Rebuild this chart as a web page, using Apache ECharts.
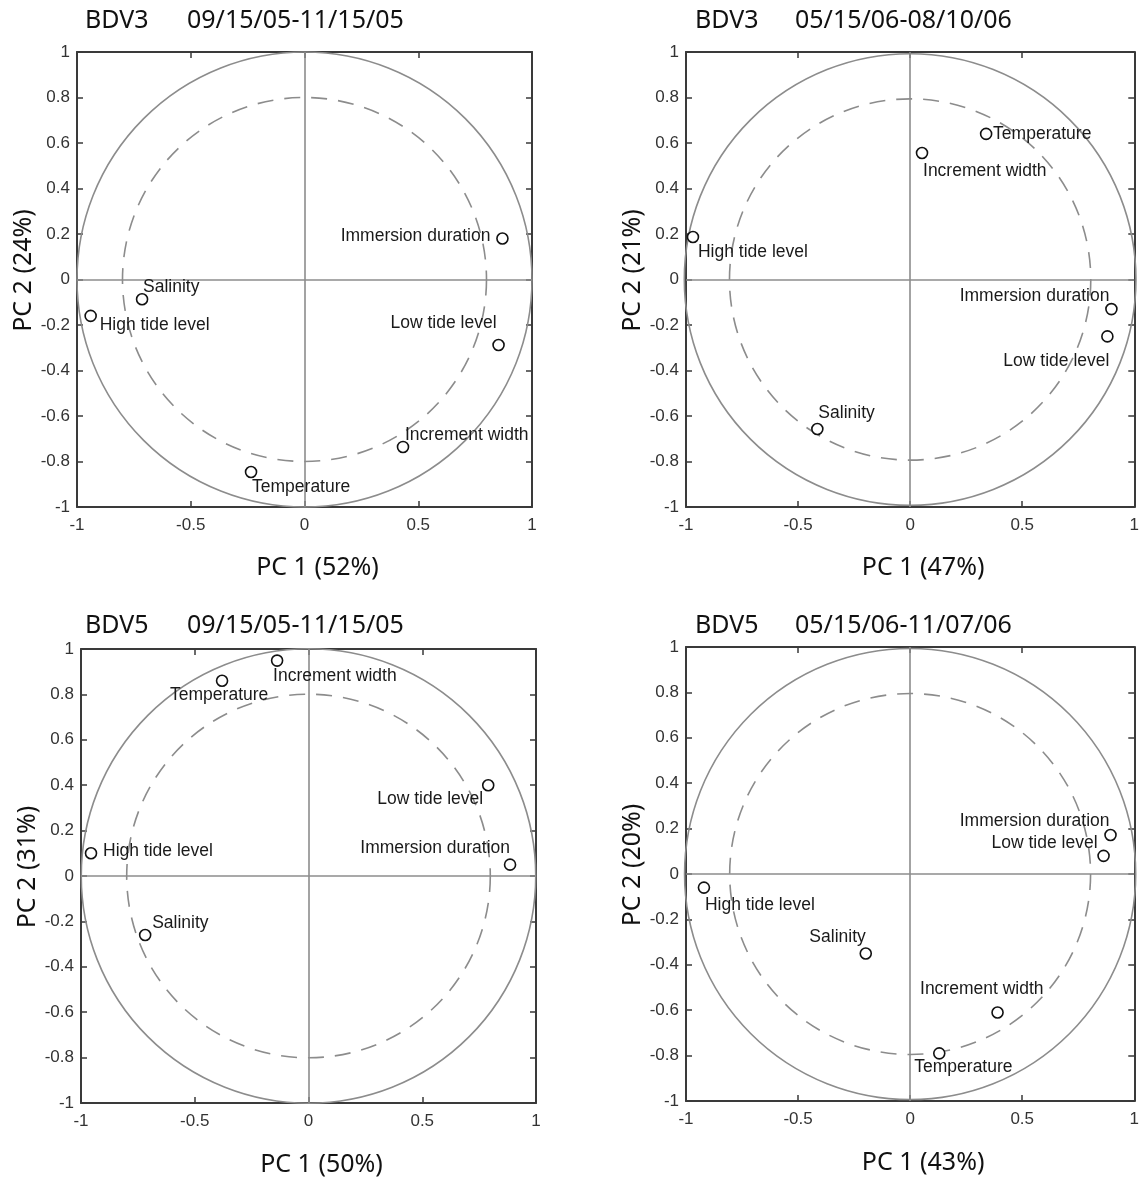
<!DOCTYPE html>
<html>
<head>
<meta charset="utf-8">
<script src="https://cdn.jsdelivr.net/npm/echarts@6/dist/echarts.min.js"></script>
<style>
  html, body { margin: 0; padding: 0; background: #fff; }
  #chart { width: 1142px; height: 1180px; }
</style>
</head>
<body>
<div id="chart"></div>
<script>
// ---------------- data ----------------
const varNames = ['Immersion duration', 'Low tide level', 'High tide level', 'Salinity', 'Increment width', 'Temperature'];

const siteNames = ['BDV3', 'BDV3', 'BDV5', 'BDV5'];
const periodNames = ['09/15/05-11/15/05', '05/15/06-08/10/06', '09/15/05-11/15/05', '05/15/06-11/07/06'];
const pc1Names = ['PC 1 (52%)', 'PC 1 (47%)', 'PC 1 (50%)', 'PC 1 (43%)'];
const pc2Names = ['PC 2 (24%)', 'PC 2 (21%)', 'PC 2 (31%)', 'PC 2 (20%)'];

// loadings, in the order of varNames
const p1_pc1 = [0.87, 0.853, -0.94, -0.714, 0.433, -0.235];
const p1_pc2 = [0.18, -0.288, -0.16, -0.087, -0.736, -0.846];

const p2_pc1 = [0.898, 0.88, -0.969, -0.414, 0.053, 0.339];
const p2_pc2 = [-0.13, -0.25, 0.187, -0.657, 0.556, 0.64];

const p3_pc1 = [0.886, 0.79, -0.956, -0.718, -0.138, -0.38];
const p3_pc2 = [0.05, 0.40, 0.10, -0.26, 0.949, 0.86];

const p4_pc1 = [0.894, 0.863, -0.92, -0.198, 0.39, 0.13];
const p4_pc2 = [0.172, 0.08, -0.06, -0.35, -0.61, -0.79];

const circleRadii = [1, 0.8];

const xTicks = [-1, -0.5, 0, 0.5, 1];
const yTicks = [-1, -0.8, -0.6, -0.4, -0.2, 0, 0.2, 0.4, 0.6, 0.8, 1];

// ---------------- layout / style (not data) ----------------
const grids = [
  { left: 77, top: 52, width: 455, height: 455 },
  { left: 686, top: 52, width: 455, height: 455 },
  { left: 81, top: 649, width: 455, height: 454 },
  { left: 686, top: 647, width: 455, height: 454 }
];
const titlePos = [
  { site: [85, 8], period: [187, 8] },
  { site: [695, 8], period: [795, 8] },
  { site: [85, 613], period: [187, 613] },
  { site: [695, 613], period: [795, 613] }
];
const yNameGap = [37, 41, 41, 41];
const xNameGap = [48, 48, 49, 49];

// label placement per point: [align, dx, dy]
const labelPlace = [
  [['right', -12, -2], ['right', -2, -22], ['left', 9, 9], ['left', 1, -12], ['left', 2, -12], ['left', 1, 15]],
  [['right', -2, -13], ['right', 2, 25], ['left', 5, 15], ['left', 1, -16], ['left', 1, 18], ['left', 7, 0]],
  [['right', 0, -16], ['right', -5, 14], ['left', 12, -2], ['left', 7, -12], ['left', -4, 16], ['left', -52, 14]],
  [['right', -1, -14], ['right', -6, -13], ['left', 1, 18], ['right', 0, -16], ['right', 46, -23], ['left', -25, 14]]
];

const pcData = [[p1_pc1, p1_pc2], [p2_pc1, p2_pc2], [p3_pc1, p3_pc2], [p4_pc1, p4_pc2]];

const axisColor = '#3a3a3a';
const refColor = '#8c8c8c';
const tickFont = { fontFamily: 'Liberation Sans, Arial, sans-serif', fontSize: 17, color: '#333' };
const nameFont = { fontFamily: 'Noto Sans, Open Sans, sans-serif', fontSize: 25, color: '#111' };

const option = {
  animation: false,
  backgroundColor: '#fff',
  title: [],
  grid: [],
  xAxis: [],
  yAxis: [],
  series: []
};

grids.forEach((g, i) => {
  option.grid.push(Object.assign({ containLabel: false }, g));

  option.title.push({
    text: siteNames[i], left: titlePos[i].site[0], top: titlePos[i].site[1], padding: 0,
    textStyle: Object.assign({}, nameFont, { fontSize: 25, fontWeight: 'normal' })
  });
  option.title.push({
    text: periodNames[i], left: titlePos[i].period[0], top: titlePos[i].period[1], padding: 0,
    textStyle: Object.assign({}, nameFont, { fontSize: 25, fontWeight: 'normal' })
  });

  const baseX = {
    type: 'value', gridIndex: i, min: -1, max: 1, interval: 0.5,
    axisLine: { show: true, onZero: false, lineStyle: { color: axisColor, width: 2 } },
    axisTick: { show: true, inside: true, length: 6, lineStyle: { color: axisColor, width: 1.5 } },
    splitLine: { show: false }
  };
  const baseY = {
    type: 'value', gridIndex: i, min: -1, max: 1, interval: 0.2,
    axisLine: { show: true, onZero: false, lineStyle: { color: axisColor, width: 2 } },
    axisTick: { show: true, inside: true, length: 6, lineStyle: { color: axisColor, width: 1.5 } },
    splitLine: { show: false }
  };

  // bottom x axis
  option.xAxis.push(Object.assign({}, baseX, {
    position: 'bottom',
    name: pc1Names[i], nameLocation: 'middle', nameGap: xNameGap[i],
    nameTextStyle: Object.assign({}, nameFont, { padding: [0, 0, 0, 26] }),
    axisLabel: Object.assign({ margin: 10, formatter: v => String(v) }, tickFont)
  }));
  // top x axis (mirror ticks)
  option.xAxis.push(Object.assign({}, baseX, {
    position: 'top', axisLabel: { show: false }
  }));
  // left y axis
  option.yAxis.push(Object.assign({}, baseY, {
    position: 'left',
    name: pc2Names[i], nameLocation: 'middle', nameGap: yNameGap[i], nameRotate: 90,
    nameTextStyle: Object.assign({}, nameFont, { padding: [0, 0, 0, 18] }),
    axisLabel: Object.assign({ margin: 7, formatter: v => String(Math.round(v * 10) / 10) }, tickFont)
  }));
  // right y axis (mirror ticks)
  option.yAxis.push(Object.assign({}, baseY, {
    position: 'right', axisLabel: { show: false }
  }));

  const xi = i * 2, yi = i * 2;

  // reference circles + zero lines
  option.series.push({
    type: 'custom',
    xAxisIndex: xi, yAxisIndex: yi,
    z: 1,
    silent: true,
    clip: false,
    data: circleRadii.map((r, k) => [0, 0, r, k]),
    renderItem: (params, api) => {
      const c = api.coord([api.value(0), api.value(1)]);
      const sz = api.size([api.value(2), api.value(2)]);
      const r = (sz[0] + sz[1]) / 2;
      const dashed = api.value(3) === 1;
      return {
        type: 'arc',
        shape: { cx: c[0], cy: c[1], r: r, startAngle: 0, endAngle: Math.PI * 2 },
        style: {
          stroke: refColor, fill: null, lineWidth: 1.6,
          lineDash: dashed ? [16, 11] : null
        }
      };
    },
    markLine: {
      silent: true, symbol: ['none', 'none'], label: { show: false },
      lineStyle: { color: refColor, width: 1.6, type: 'solid' },
      data: [{ xAxis: 0 }, { yAxis: 0 }]
    }
  });

  // loadings
  const [xs, ys] = pcData[i];
  option.series.push({
    type: 'scatter',
    xAxisIndex: xi, yAxisIndex: yi,
    z: 5,
    symbol: 'circle', symbolSize: 11,
    itemStyle: { color: '#fff', borderColor: '#111', borderWidth: 1.6, opacity: 1 },
    data: xs.map((x, k) => ({
      value: [x, ys[k]],
      name: varNames[k],
      label: {
        show: true,
        position: 'inside',
        formatter: varNames[k],
        align: labelPlace[i][k][0],
        verticalAlign: 'middle',
        offset: [labelPlace[i][k][1], labelPlace[i][k][2]],
        fontFamily: 'Liberation Sans, Arial, sans-serif',
        fontSize: 17.5,
        color: '#1a1a1a'
      }
    }))
  });
});

const chart = echarts.init(document.getElementById('chart'), null, { renderer: 'canvas' });
chart.setOption(option);
</script>
</body>
</html>
